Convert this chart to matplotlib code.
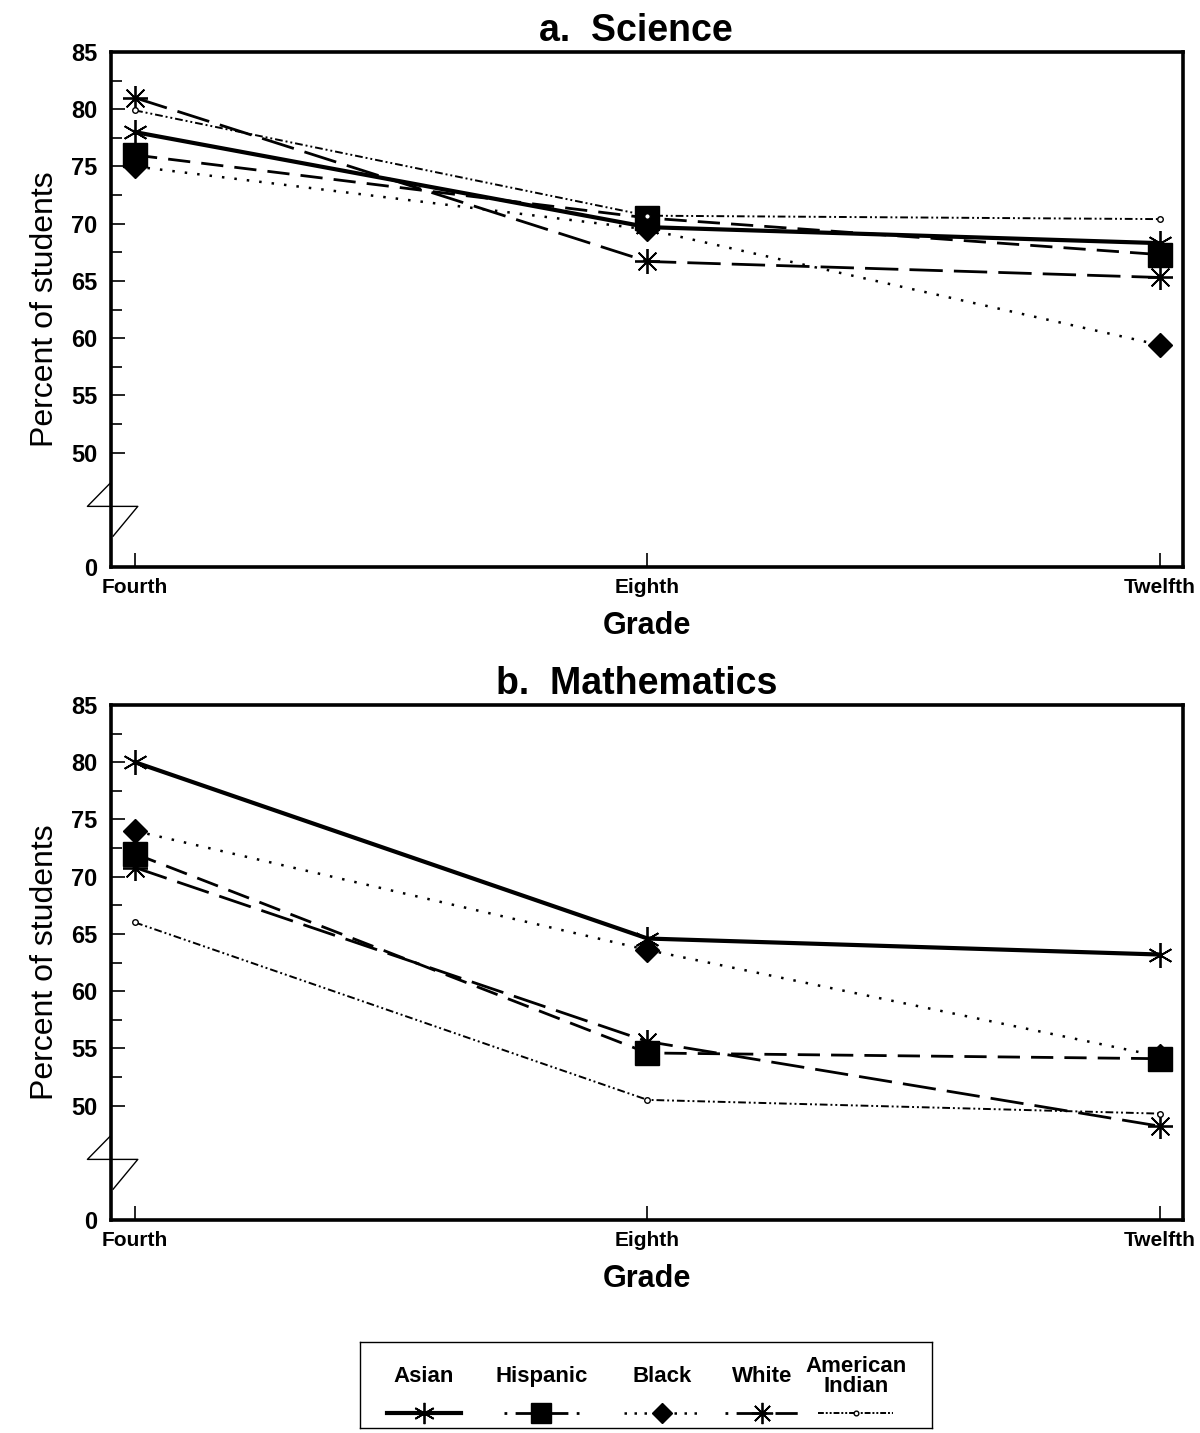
import numpy as np
import matplotlib.pyplot as plt
from matplotlib.lines import Line2D
import matplotlib.transforms as mtransforms

plt.rcParams['font.family'] = ['Liberation Sans', 'DejaVu Sans']

# -------------------------------
# DATA
# -------------------------------
grades = ["Fourth", "Eighth", "Twelfth"]
groups = ["Asian", "Hispanic", "Black", "White", "American\nIndian"]

science_asian    = [78.0, 69.7, 68.3]
science_hispanic = [76.0, 70.5, 67.3]
science_black    = [75.0, 69.5, 59.4]
science_white    = [81.0, 66.7, 65.3]
science_amind    = [79.9, 70.7, 70.4]

math_asian    = [80.0, 64.6, 63.2]
math_hispanic = [72.0, 54.6, 54.1]
math_black    = [74.0, 63.6, 54.3]
math_white    = [70.8, 55.6, 48.2]
math_amind    = [66.0, 50.5, 49.3]

tick_vals   = [0, 50, 55, 60, 65, 70, 75, 80, 85]
BREAK_ZERO  = 40   # where "0" sits on the broken axis

# -------------------------------
# STYLES
# -------------------------------
styles = [
    dict(color="black", lw=3.0, ls="-", marker=(6, 2, 0), ms=18, mew=1.3),
    dict(color="black", lw=2.0, ls=(0, (8, 4)), marker="s", ms=17, mew=1),
    dict(color="black", lw=1.8, ls=(0, (1, 4)), marker="D", ms=12, mew=1),
    dict(color="black", lw=2.0, ls=(0, (12, 4)), marker=(8, 2, 0), ms=18, mew=1.3),
    dict(color="black", lw=1.4, ls=(0, (4, 1.5, 1, 1.5, 1, 1.5)), marker="o",
         ms=4, mfc="white", mew=1),
]
# legend samples use slightly different dash patterns, as in the original key
legend_ls = ["-", (0, (1, 3, 6, 3)), (0, (1, 3)), (0, (1, 3, 8, 2)),
             (0, (3, 1, 1, 1, 1, 1))]


def draw_panel(ax, series, title):
    x = np.arange(len(grades))
    for vals, st in zip(series, styles):
        ax.plot(x, vals, **st)

    ax.set_xlim(-0.047, 2.045)
    ax.set_ylim(BREAK_ZERO, 85)

    ypos = [BREAK_ZERO if v == 0 else v for v in tick_vals]
    ax.set_yticks(ypos)
    ax.set_yticklabels([str(v) for v in tick_vals])
    ax.set_yticks(np.arange(52.5, 85, 5), minor=True)
    ax.set_xticks(x)
    ax.set_xticklabels(grades)

    ax.tick_params(axis="both", which="both", direction="in", width=1.2)
    ax.tick_params(axis="y", which="major", length=10, pad=10, labelsize=17)
    ax.tick_params(axis="y", which="minor", length=8)
    ax.tick_params(axis="x", which="major", length=10, pad=8, labelsize=15)
    for lab in ax.get_xticklabels() + ax.get_yticklabels():
        lab.set_fontweight("bold")
    for sp in ax.spines.values():
        sp.set_linewidth(2.6)

    ax.set_xlabel("Grade", fontsize=22, fontweight="bold", labelpad=10)
    ax.set_ylabel("Percent of students", fontsize=23, labelpad=8)
    ax.set_title(title, fontsize=27, fontweight="bold", pad=8, x=0.49)

    # axis break mark
    trans = mtransforms.blended_transform_factory(ax.transAxes, ax.transData)
    ax.plot([0.0, -0.022, 0.025, 0.002], [47.4, 45.3, 45.3, 42.7],
            color="black", lw=1.0, transform=trans, clip_on=False)


fig = plt.figure(figsize=(12, 14.33), dpi=100)
ax1 = fig.add_axes([0.0925, 0.6043, 0.8933, 0.3594])
ax2 = fig.add_axes([0.0925, 0.1486, 0.8933, 0.3594])

draw_panel(ax1, [science_asian, science_hispanic, science_black,
                 science_white, science_amind], "a.  Science")
draw_panel(ax2, [math_asian, math_hispanic, math_black,
                 math_white, math_amind], "b.  Mathematics")

# -------------------------------
# LEGEND (labels above samples)
# -------------------------------
lax = fig.add_axes([0.300, 0.0035, 0.477, 0.0600])
lax.set_xlim(0, 1)
lax.set_ylim(0, 1)
lax.set_xticks([])
lax.set_yticks([])
for sp in lax.spines.values():
    sp.set_linewidth(1.0)

col_x = [0.112, 0.317, 0.527, 0.703, 0.866]
for cx, name, st, lls in zip(col_x, groups, styles, legend_ls):
    lax.text(cx, 0.60, name, ha="center", va="center", fontsize=16,
             fontweight="bold", linespacing=0.9)
    st2 = dict(st)
    ms = st2.pop("ms")
    st2.pop("ls")
    lax.add_line(Line2D([cx - 0.065, cx + 0.065], [0.18, 0.18], ls=lls,
                        markevery=[], **st2))
    lax.add_line(Line2D([cx], [0.18], ms=ms * 0.85, ls="none",
                        **{k: v for k, v in st2.items() if k != "lw"}))

fig.savefig("out.png", dpi=100)
